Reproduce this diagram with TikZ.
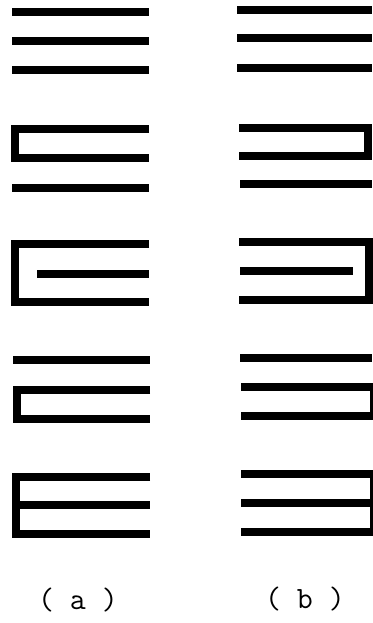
\documentclass[tikz,border=0pt]{standalone}

\begin{document}
\begin{tikzpicture}[x=1pt,y=-1pt,
                bar/.style={line width=7.5pt,line join=miter},
                lbl/.style={font=\ttfamily\fontsize{31}{31}\selectfont,inner sep=0pt}
            ]
                \useasboundingbox (0,0) rectangle (372,623);
                % --- column (a): bends on the left ---
                \foreach \y in {12,41,70} { \draw[bar] (12,\y)--(149,\y); }
                \draw[bar] (149,129)--(15,129)--(15,158)--(149,158);
                \draw[bar] (12,188)--(149,188);
                \draw[bar] (149,244)--(15,244)--(15,302)--(149,302);
                \draw[bar] (37,274)--(149,274);
                \draw[bar] (13,360)--(150,360);
                \draw[bar] (150,390)--(17,390)--(17,419)--(150,419);
                \draw[bar] (150,477)--(16,477)--(16,534)--(150,534);
                \draw[bar] (16,505)--(150,505);
                % --- column (b): bends on the right (cut by the page edge) ---
                \foreach \y in {10,38,68} { \draw[bar] (237,\y)--(372,\y); }
                \draw[bar] (239,128)--(368,128)--(368,156)--(239,156);
                \draw[bar] (240,184)--(372,184);
                \draw[bar] (239,242)--(369,242)--(369,300)--(239,300);
                \draw[bar] (240,271)--(353,271);
                \draw[bar] (240,358)--(372,358);
                \draw[bar] (241,387)--(374,387)--(374,416)--(241,416);
                \draw[bar] (241,474)--(374,474)--(374,532)--(241,532);
                \draw[bar] (241,503)--(374,503);
                % labels
                \node[lbl] (la) at (78,600) {( a )};
                \node[lbl] (lb) at (305,599) {( b )};
            \end{tikzpicture}
\end{document}
